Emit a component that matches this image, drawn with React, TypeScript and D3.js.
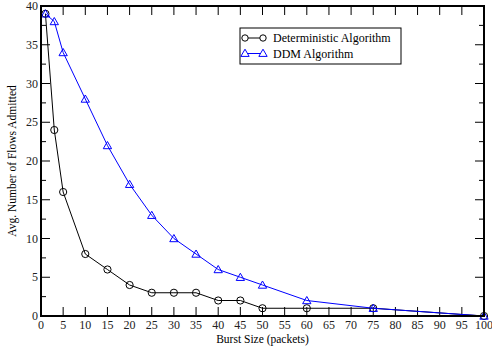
import { useRef, useEffect } from "react";
import * as d3 from "d3";

const burstSizes = [1, 3, 5, 10, 15, 20, 25, 30, 35, 40, 45, 50, 60, 75, 100];
const deterministic = [39, 24, 16, 8, 6, 4, 3, 3, 3, 2, 2, 1, 1, 1, 0];
const ddm = [39, 38, 34, 28, 22, 17, 13, 10, 8, 6, 5, 4, 2, 1, 0];
const xTicks = d3.range(0, 101, 5);
const yTicks = d3.range(0, 41, 5);
const yMinorTicks = d3.range(2.5, 40, 5);
const seriesNames = ["Deterministic Algorithm", "DDM Algorithm"];

const App = () => {
  const svgRef = useRef<SVGSVGElement>(null);

  useEffect(() => {
    const width = 492;
    const height = 350;
    const m = { left: 41, right: 8, top: 6, bottom: 34 };
    const fs = 11.5;
    const svg = d3
      .select(svgRef.current)
      .attr("width", width)
      .attr("height", height)
      .style("font-family", "'Liberation Serif', 'Times New Roman', serif");
    svg.selectAll("*").remove();

    const x = d3.scaleLinear().domain([0, 100]).range([m.left, width - m.right]);
    const y = d3.scaleLinear().domain([0, 40]).range([height - m.bottom, m.top]);

    // ticks point inward on all four sides
    const g = svg.append("g").attr("stroke", "#000").attr("stroke-width", 1);
    xTicks.forEach((t) => {
      g.append("line").attr("x1", x(t)).attr("x2", x(t)).attr("y1", y(0)).attr("y2", y(0) - 9);
      g.append("line").attr("x1", x(t)).attr("x2", x(t)).attr("y1", y(40)).attr("y2", y(40) + 9);
    });
    yTicks.forEach((t) => {
      g.append("line").attr("x1", x(0)).attr("x2", x(0) + 9).attr("y1", y(t)).attr("y2", y(t));
      g.append("line").attr("x1", x(100)).attr("x2", x(100) - 9).attr("y1", y(t)).attr("y2", y(t));
    });
    yMinorTicks.forEach((t) => {
      g.append("line").attr("x1", x(0)).attr("x2", x(0) + 5).attr("y1", y(t)).attr("y2", y(t));
      g.append("line").attr("x1", x(100)).attr("x2", x(100) - 5).attr("y1", y(t)).attr("y2", y(t));
    });

    // tick labels
    svg
      .append("g")
      .selectAll("text")
      .data(xTicks)
      .join("text")
      .attr("x", (d) => x(d))
      .attr("y", y(0) + 13)
      .attr("text-anchor", "middle")
      .style("font-size", "12px")
      .attr("fill", "#222")
      .text((d) => d);
    svg
      .append("g")
      .selectAll("text")
      .data(yTicks)
      .join("text")
      .attr("x", x(0) - 3)
      .attr("y", (d) => y(d) + 4)
      .attr("text-anchor", "end")
      .style("font-size", "12px")
      .attr("fill", "#222")
      .text((d) => d);

    // axis titles
    svg
      .append("text")
      .attr("x", (x(0) + x(100)) / 2)
      .attr("y", height - 7)
      .attr("text-anchor", "middle")
      .style("font-size", `${fs}px`)
      .text("Burst Size (packets)");
    svg
      .append("text")
      .attr("transform", `translate(16,${(y(0) + y(40)) / 2}) rotate(-90)`)
      .attr("text-anchor", "middle")
      .style("font-size", `${fs}px`)
      .text("Avg. Number of Flows Admitted");

    const line = d3
      .line<number>()
      .x((d, i) => x(burstSizes[i]))
      .y((d) => y(d));

    const tri = d3.symbol().type(d3.symbolTriangle).size(30);

    // deterministic
    svg.append("path").attr("d", line(deterministic)).attr("fill", "none").attr("stroke", "#000").attr("stroke-width", 1);
    svg
      .append("g")
      .selectAll("circle")
      .data(deterministic)
      .join("circle")
      .attr("cx", (d, i) => x(burstSizes[i]))
      .attr("cy", (d) => y(d))
      .attr("r", 3.6)
      .attr("fill", "none")
      .attr("stroke", "#000");

    // DDM
    svg.append("path").attr("d", line(ddm)).attr("fill", "none").attr("stroke", "#0000ff").attr("stroke-width", 1);
    svg
      .append("g")
      .selectAll("path")
      .data(ddm)
      .join("path")
      .attr("d", tri)
      .attr("transform", (d, i) => `translate(${x(burstSizes[i])},${y(d) + 0.8})`)
      .attr("fill", "none")
      .attr("stroke", "#0000ff");

    // frame
    svg
      .append("rect")
      .attr("x", x(0))
      .attr("y", y(40))
      .attr("width", x(100) - x(0))
      .attr("height", y(0) - y(40))
      .attr("fill", "none")
      .attr("stroke", "#000")
      .attr("stroke-width", 2);

    // legend
    const lg = svg.append("g").attr("transform", "translate(240,28)");
    lg.append("rect").attr("width", 161).attr("height", 36).attr("fill", "#fff").attr("stroke", "#000").attr("stroke-width", 1);
    seriesNames.forEach((name, i) => {
      const cy = 10 + i * 15.5;
      const color = i === 0 ? "#000" : "#0000ff";
      lg.append("line").attr("x1", 5).attr("x2", 23).attr("y1", cy).attr("y2", cy).attr("stroke", color);
      [5, 23].forEach((px) => {
        if (i === 0) {
          lg.append("circle").attr("cx", px).attr("cy", cy).attr("r", 3.2).attr("fill", "#fff").attr("stroke", color);
        } else {
          lg.append("path").attr("d", tri).attr("transform", `translate(${px},${cy + 0.5})`).attr("fill", "#fff").attr("stroke", color);
        }
      });
      lg.append("text")
        .attr("x", 33)
        .attr("y", cy + 4)
        .style("font-size", "12px")
        .attr("fill", "#000")
        .text(name);
    });
  }, []);

  return (
    <div style={{ position: "absolute", left: 0, top: 0 }}>
      <svg ref={svgRef}></svg>
    </div>
  );
};

export default App;
